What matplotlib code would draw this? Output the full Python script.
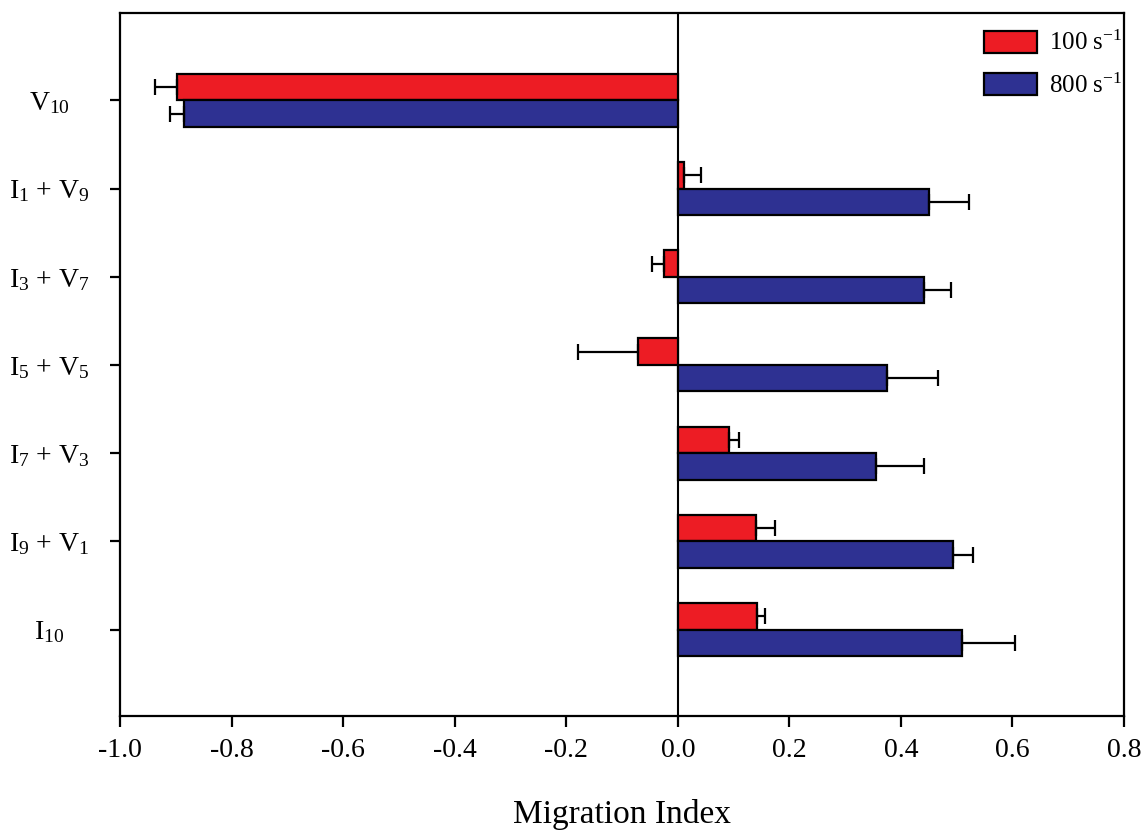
import numpy as np
import matplotlib
matplotlib.use("Agg")
import matplotlib.pyplot as plt

plt.rcParams['font.family'] = ['Liberation Serif', 'DejaVu Serif']
plt.rcParams['mathtext.fontset'] = 'custom'
plt.rcParams['mathtext.rm'] = 'Liberation Serif'
plt.rcParams['mathtext.it'] = 'Liberation Serif:italic'

# data (top to bottom)
groups = [r'V$_{10}$', r'I$_{1}$ + V$_{9}$', r'I$_{3}$ + V$_{7}$', r'I$_{5}$ + V$_{5}$',
          r'I$_{7}$ + V$_{3}$', r'I$_{9}$ + V$_{1}$', r'I$_{10}$']
red_vals = [-0.897, 0.011, -0.025, -0.071, 0.092, 0.140, 0.142]
red_err = [0.040, 0.030, 0.022, 0.108, 0.018, 0.034, 0.015]
blue_vals = [-0.885, 0.451, 0.441, 0.376, 0.355, 0.493, 0.510]
blue_err = [0.026, 0.071, 0.049, 0.091, 0.087, 0.037, 0.094]
xticks = [-1.0, -0.8, -0.6, -0.4, -0.2, 0.0, 0.2, 0.4, 0.6, 0.8]

red = '#ED1C24'
blue = '#2E3192'


def one_sided(vals, errs):
    # error bar only on the side pointing away from zero
    lo = [e if v < 0 else 0 for v, e in zip(vals, errs)]
    hi = [e if v >= 0 else 0 for v, e in zip(vals, errs)]
    return [lo, hi]


fig = plt.figure(figsize=(11.44, 8.35), dpi=100)
ax = fig.add_axes([0.1049, 0.1425, 0.8776, 0.8419])

y = np.arange(len(groups))
h = 0.3
ekw = dict(elinewidth=1.6, capthick=1.6)
ax.barh(y - h / 2, red_vals, height=h, color=red, edgecolor='black', linewidth=1.6,
        xerr=one_sided(red_vals, red_err), capsize=6, error_kw=ekw, label=r'100 s$^{-1}$')
ax.barh(y + h / 2, blue_vals, height=h, color=blue, edgecolor='black', linewidth=1.6,
        xerr=one_sided(blue_vals, blue_err), capsize=6, error_kw=ekw, label=r'800 s$^{-1}$')

ax.axvline(0, color='black', linewidth=1.5, zorder=0.5)

ax.set_xlim(-1.0, 0.8)
ax.set_ylim(len(groups) - 0.02, -0.99)
ax.set_xticks(xticks)
ax.set_xticklabels(['%.1f' % t for t in xticks])
ax.set_yticks(y)
ax.set_yticklabels(groups, ha='center')

for s in ax.spines.values():
    s.set_linewidth(1.6)
ax.tick_params(axis='x', direction='out', length=8, width=1.6, labelsize=20, pad=8)
ax.tick_params(axis='y', direction='out', length=7, width=1.6, labelsize=20, pad=44)

ax.set_xlabel('Migration Index', fontsize=24, labelpad=26)

leg = ax.legend(loc='upper right', bbox_to_anchor=(1.006, 0.985), frameon=False,
                fontsize=18, handlelength=2.1, handleheight=0.95, handletextpad=0.5,
                labelspacing=0.72, borderaxespad=0.0, borderpad=0.3)

fig.savefig('out.png', dpi=100)
